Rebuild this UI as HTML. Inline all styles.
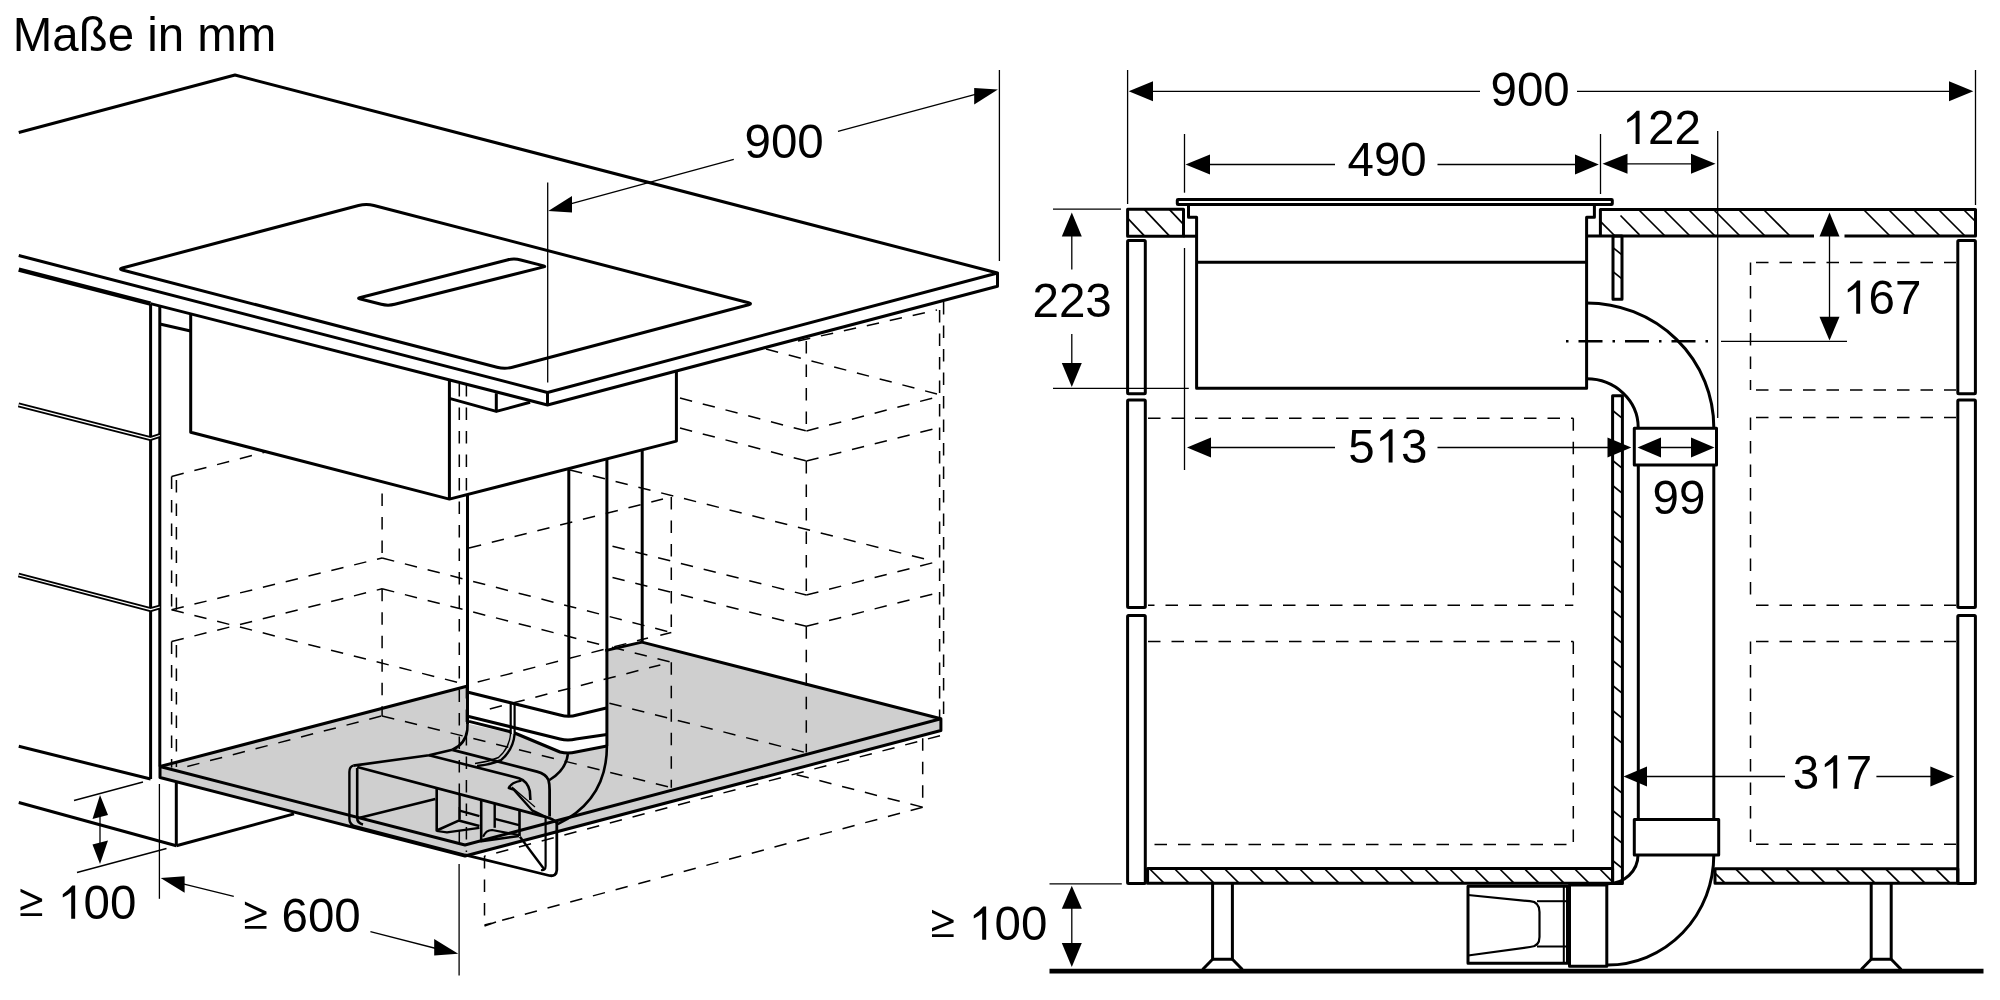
<!DOCTYPE html>
<html><head><meta charset="utf-8"><style>
html,body{margin:0;padding:0;background:#fff;}
svg{display:block;will-change:transform;}
text{font-family:"Liberation Sans", sans-serif;}
</style></head><body>
<svg width="2000" height="1000" viewBox="0 0 2000 1000">
<rect x="0" y="0" width="2000" height="1000" fill="#fff"/>
<g stroke="#000" fill="none" stroke-linejoin="round" stroke-linecap="butt">
<line x1="1127.60" y1="70.00" x2="1127.60" y2="204.00" stroke-width="1.3" />
<line x1="1975.50" y1="70.00" x2="1975.50" y2="205.00" stroke-width="1.3" />
<line x1="1140.00" y1="91.30" x2="1480.00" y2="91.30" stroke-width="1.3" />
<line x1="1577.00" y1="91.30" x2="1960.00" y2="91.30" stroke-width="1.3" />
<path d="M1128.70,91.30 L1153.00,81.30 L1153.00,101.30 Z" fill="#000" stroke="none"/>
<path d="M1973.30,91.30 L1949.00,101.30 L1949.00,81.30 Z" fill="#000" stroke="none"/>
<text x="1490.50" y="106.00" font-size="47.5" text-anchor="start" stroke="none" fill="#000">900</text>
<line x1="1184.50" y1="134.00" x2="1184.50" y2="192.70" stroke-width="1.3" />
<line x1="1600.50" y1="134.00" x2="1600.50" y2="194.00" stroke-width="1.3" />
<line x1="1195.00" y1="164.50" x2="1335.00" y2="164.50" stroke-width="1.3" />
<line x1="1437.50" y1="164.50" x2="1590.00" y2="164.50" stroke-width="1.3" />
<path d="M1185.50,164.50 L1210.00,154.50 L1210.00,174.50 Z" fill="#000" stroke="none"/>
<path d="M1598.80,164.50 L1575.00,174.50 L1575.00,154.50 Z" fill="#000" stroke="none"/>
<text x="1347.50" y="176.00" font-size="47.5" text-anchor="start" stroke="none" fill="#000">490</text>
<line x1="1717.70" y1="131.00" x2="1717.70" y2="418.00" stroke-width="1.3" />
<line x1="1610.00" y1="163.80" x2="1708.00" y2="163.80" stroke-width="1.3" />
<path d="M1602.50,163.80 L1627.50,153.80 L1627.50,173.80 Z" fill="#000" stroke="none"/>
<path d="M1715.50,163.80 L1691.00,173.80 L1691.00,153.80 Z" fill="#000" stroke="none"/>
<path d="M1635.61,144.00 L1639.55,144.00 L1639.55,110.75 L1636.70,110.75 Q1633.47,114.79 1627.16,119.49 L1627.16,122.77 Q1631.81,120.72 1635.61,117.50 Z" fill="#000" stroke="none"/>
<text x="1648.02" y="144.00" font-size="47.5" stroke="none" fill="#000">2</text>
<text x="1674.44" y="144.00" font-size="47.5" stroke="none" fill="#000">2</text>
<rect x="1177.30" y="199.50" width="435.00" height="5.10" stroke-width="3.0" fill="none" rx="0.8"/>
<path d="M1188.50,205.50 L1188.50,217.30 L1196.60,217.30 L1196.60,388.30 L1586.60,388.30 L1586.60,217.30 L1594.40,217.30 L1594.40,205.50" stroke-width="3.0" fill="none" />
<line x1="1196.60" y1="262.30" x2="1586.60" y2="262.30" stroke-width="3.0" />
<rect x="1127.60" y="209.30" width="55.90" height="26.90" stroke-width="3.0" fill="none" rx="0"/>
<line x1="1183.50" y1="236.20" x2="1196.60" y2="236.20" stroke-width="3.0" />
<line x1="1127.60" y1="218.11" x2="1144.60" y2="236.20" stroke-width="1.7" />
<line x1="1144.31" y1="209.30" x2="1169.60" y2="236.20" stroke-width="1.7" />
<line x1="1169.31" y1="209.30" x2="1183.50" y2="224.39" stroke-width="1.7" />
<path d="M1586.60,236.00 L1814.00,236.00" stroke-width="3.0" fill="none" />
<path d="M1844.50,236.00 L1975.50,236.00 L1975.50,209.50 L1600.40,209.50 L1600.40,236.00" stroke-width="3.0" fill="none" />
<line x1="1620.50" y1="215.50" x2="1639.50" y2="234.80" stroke-width="1.7" />
<line x1="1600.40" y1="221.40" x2="1615.00" y2="236.00" stroke-width="1.7" />
<line x1="1638.50" y1="209.50" x2="1665.00" y2="236.00" stroke-width="1.7" />
<line x1="1663.50" y1="209.50" x2="1690.00" y2="236.00" stroke-width="1.7" />
<line x1="1688.50" y1="209.50" x2="1715.00" y2="236.00" stroke-width="1.7" />
<line x1="1713.50" y1="209.50" x2="1740.00" y2="236.00" stroke-width="1.7" />
<line x1="1738.50" y1="209.50" x2="1765.00" y2="236.00" stroke-width="1.7" />
<line x1="1763.50" y1="209.50" x2="1790.00" y2="236.00" stroke-width="1.7" />
<line x1="1863.50" y1="209.50" x2="1890.00" y2="236.00" stroke-width="1.7" />
<line x1="1888.50" y1="209.50" x2="1915.00" y2="236.00" stroke-width="1.7" />
<line x1="1913.50" y1="209.50" x2="1940.00" y2="236.00" stroke-width="1.7" />
<line x1="1938.50" y1="209.50" x2="1965.00" y2="236.00" stroke-width="1.7" />
<line x1="1963.50" y1="209.50" x2="1975.50" y2="221.50" stroke-width="1.7" />
<rect x="1127.60" y="240.50" width="17.70" height="153.30" stroke-width="3.0" fill="none" rx="1"/>
<rect x="1127.60" y="400.00" width="17.70" height="207.50" stroke-width="3.0" fill="none" rx="1"/>
<rect x="1127.60" y="615.50" width="17.70" height="268.00" stroke-width="3.0" fill="none" rx="1"/>
<rect x="1957.80" y="240.50" width="17.60" height="153.30" stroke-width="3.0" fill="none" rx="1"/>
<rect x="1957.80" y="400.00" width="17.60" height="207.50" stroke-width="3.0" fill="none" rx="1"/>
<rect x="1957.80" y="615.50" width="17.60" height="268.00" stroke-width="3.0" fill="none" rx="1"/>
<rect x="1613.00" y="236.00" width="9.00" height="63.20" stroke-width="3.0" fill="none" rx="0"/>
<line x1="1613.00" y1="247.60" x2="1622.00" y2="254.80" stroke-width="1.7" />
<line x1="1613.00" y1="271.60" x2="1622.00" y2="278.80" stroke-width="1.7" />
<rect x="1612.60" y="395.80" width="9.80" height="487.70" stroke-width="3.0" fill="none" rx="0"/>
<line x1="1612.60" y1="410.50" x2="1622.40" y2="418.34" stroke-width="1.7" />
<line x1="1612.60" y1="460.50" x2="1622.40" y2="468.34" stroke-width="1.7" />
<line x1="1612.60" y1="485.50" x2="1622.40" y2="493.34" stroke-width="1.7" />
<line x1="1612.60" y1="510.50" x2="1622.40" y2="518.34" stroke-width="1.7" />
<line x1="1612.60" y1="535.50" x2="1622.40" y2="543.34" stroke-width="1.7" />
<line x1="1612.60" y1="560.50" x2="1622.40" y2="568.34" stroke-width="1.7" />
<line x1="1612.60" y1="585.50" x2="1622.40" y2="593.34" stroke-width="1.7" />
<line x1="1612.60" y1="610.50" x2="1622.40" y2="618.34" stroke-width="1.7" />
<line x1="1612.60" y1="635.50" x2="1622.40" y2="643.34" stroke-width="1.7" />
<line x1="1612.60" y1="660.50" x2="1622.40" y2="668.34" stroke-width="1.7" />
<line x1="1612.60" y1="685.50" x2="1622.40" y2="693.34" stroke-width="1.7" />
<line x1="1612.60" y1="710.50" x2="1622.40" y2="718.34" stroke-width="1.7" />
<line x1="1612.60" y1="735.50" x2="1622.40" y2="743.34" stroke-width="1.7" />
<line x1="1612.60" y1="785.50" x2="1622.40" y2="793.34" stroke-width="1.7" />
<line x1="1612.60" y1="810.50" x2="1622.40" y2="818.34" stroke-width="1.7" />
<line x1="1612.60" y1="835.50" x2="1622.40" y2="843.34" stroke-width="1.7" />
<line x1="1612.60" y1="860.50" x2="1622.40" y2="868.34" stroke-width="1.7" />
<rect x="1147.60" y="868.50" width="465.00" height="14.70" stroke-width="3.0" fill="none" rx="0"/>
<line x1="1149.30" y1="868.50" x2="1164.00" y2="883.20" stroke-width="1.7" />
<line x1="1174.30" y1="868.50" x2="1189.00" y2="883.20" stroke-width="1.7" />
<line x1="1199.30" y1="868.50" x2="1214.00" y2="883.20" stroke-width="1.7" />
<line x1="1224.30" y1="868.50" x2="1239.00" y2="883.20" stroke-width="1.7" />
<line x1="1249.30" y1="868.50" x2="1264.00" y2="883.20" stroke-width="1.7" />
<line x1="1274.30" y1="868.50" x2="1289.00" y2="883.20" stroke-width="1.7" />
<line x1="1299.30" y1="868.50" x2="1314.00" y2="883.20" stroke-width="1.7" />
<line x1="1324.30" y1="868.50" x2="1339.00" y2="883.20" stroke-width="1.7" />
<line x1="1349.30" y1="868.50" x2="1364.00" y2="883.20" stroke-width="1.7" />
<line x1="1374.30" y1="868.50" x2="1389.00" y2="883.20" stroke-width="1.7" />
<line x1="1399.30" y1="868.50" x2="1414.00" y2="883.20" stroke-width="1.7" />
<line x1="1424.30" y1="868.50" x2="1439.00" y2="883.20" stroke-width="1.7" />
<line x1="1449.30" y1="868.50" x2="1464.00" y2="883.20" stroke-width="1.7" />
<line x1="1474.30" y1="868.50" x2="1489.00" y2="883.20" stroke-width="1.7" />
<line x1="1499.30" y1="868.50" x2="1514.00" y2="883.20" stroke-width="1.7" />
<line x1="1524.30" y1="868.50" x2="1539.00" y2="883.20" stroke-width="1.7" />
<line x1="1549.30" y1="868.50" x2="1564.00" y2="883.20" stroke-width="1.7" />
<line x1="1574.30" y1="868.50" x2="1589.00" y2="883.20" stroke-width="1.7" />
<line x1="1599.30" y1="868.50" x2="1612.60" y2="881.80" stroke-width="1.7" />
<rect x="1715.00" y="868.80" width="242.80" height="14.40" stroke-width="3.0" fill="none" rx="0"/>
<line x1="1715.00" y1="873.20" x2="1725.00" y2="883.20" stroke-width="1.7" />
<line x1="1735.60" y1="868.80" x2="1750.00" y2="883.20" stroke-width="1.7" />
<line x1="1760.60" y1="868.80" x2="1775.00" y2="883.20" stroke-width="1.7" />
<line x1="1785.60" y1="868.80" x2="1800.00" y2="883.20" stroke-width="1.7" />
<line x1="1810.60" y1="868.80" x2="1825.00" y2="883.20" stroke-width="1.7" />
<line x1="1835.60" y1="868.80" x2="1850.00" y2="883.20" stroke-width="1.7" />
<line x1="1860.60" y1="868.80" x2="1875.00" y2="883.20" stroke-width="1.7" />
<line x1="1885.60" y1="868.80" x2="1900.00" y2="883.20" stroke-width="1.7" />
<line x1="1910.60" y1="868.80" x2="1925.00" y2="883.20" stroke-width="1.7" />
<line x1="1935.60" y1="868.80" x2="1950.00" y2="883.20" stroke-width="1.7" />
<line x1="1148.00" y1="418.30" x2="1573.30" y2="418.30" stroke-width="1.5" stroke-dasharray="12.5 11" stroke-dashoffset="0"/>
<line x1="1573.30" y1="418.30" x2="1573.30" y2="605.30" stroke-width="1.5" stroke-dasharray="12.5 11" stroke-dashoffset="0"/>
<line x1="1148.00" y1="605.30" x2="1573.30" y2="605.30" stroke-width="1.5" stroke-dasharray="12.5 11" stroke-dashoffset="6"/>
<line x1="1148.00" y1="641.50" x2="1573.30" y2="641.50" stroke-width="1.5" stroke-dasharray="12.5 11" stroke-dashoffset="0"/>
<line x1="1573.30" y1="641.50" x2="1573.30" y2="844.50" stroke-width="1.5" stroke-dasharray="12.5 11" stroke-dashoffset="0"/>
<line x1="1154.50" y1="844.50" x2="1573.30" y2="844.50" stroke-width="1.5" stroke-dasharray="12.5 11" stroke-dashoffset="0"/>
<line x1="1756.00" y1="262.50" x2="1956.00" y2="262.50" stroke-width="1.5" stroke-dasharray="12.5 11" stroke-dashoffset="0"/>
<line x1="1750.50" y1="262.50" x2="1750.50" y2="390.00" stroke-width="1.5" stroke-dasharray="12.5 11" stroke-dashoffset="0"/>
<line x1="1756.00" y1="390.00" x2="1956.00" y2="390.00" stroke-width="1.5" stroke-dasharray="12.5 11" stroke-dashoffset="0"/>
<line x1="1756.00" y1="417.50" x2="1956.00" y2="417.50" stroke-width="1.5" stroke-dasharray="12.5 11" stroke-dashoffset="0"/>
<line x1="1750.50" y1="417.50" x2="1750.50" y2="605.30" stroke-width="1.5" stroke-dasharray="12.5 11" stroke-dashoffset="0"/>
<line x1="1756.00" y1="605.30" x2="1956.00" y2="605.30" stroke-width="1.5" stroke-dasharray="12.5 11" stroke-dashoffset="0"/>
<line x1="1756.00" y1="641.50" x2="1956.00" y2="641.50" stroke-width="1.5" stroke-dasharray="12.5 11" stroke-dashoffset="0"/>
<line x1="1750.50" y1="641.50" x2="1750.50" y2="844.30" stroke-width="1.5" stroke-dasharray="12.5 11" stroke-dashoffset="0"/>
<line x1="1756.00" y1="844.30" x2="1956.00" y2="844.30" stroke-width="1.5" stroke-dasharray="12.5 11" stroke-dashoffset="0"/>
<path d="M1586.6,303 A127,124.5 0 0 1 1713.8,427.5" stroke-width="3.0" fill="none" />
<path d="M1586.6,378.8 A51.6,48.7 0 0 1 1638.2,427.5" stroke-width="3.0" fill="none" />
<rect x="1634.30" y="428.30" width="82.20" height="36.70" stroke-width="3.0" fill="none" rx="0"/>
<line x1="1638.30" y1="465.00" x2="1638.30" y2="819.50" stroke-width="3.0" />
<line x1="1713.80" y1="465.00" x2="1713.80" y2="819.50" stroke-width="3.0" />
<rect x="1634.30" y="819.50" width="84.40" height="35.50" stroke-width="3.0" fill="none" rx="0"/>
<path d="M1713.8,855 A106.3,110 0 0 1 1607.5,965" stroke-width="3.0" fill="none" />
<path d="M1638,855 A30.5,28.8 0 0 1 1607.5,883.8" stroke-width="3.0" fill="none" />
<rect x="1569.50" y="885.00" width="37.30" height="81.30" stroke-width="3.0" fill="none" rx="0"/>
<rect x="1468.00" y="886.30" width="99.50" height="77.00" stroke-width="3.0" fill="none" rx="0"/>
<path d="M1468,895 L1530,901.2 Q1539.5,902 1539.5,912 L1539.5,937 Q1539.5,946.5 1530,947 L1468,955.5" stroke-width="2.2" fill="none" />
<line x1="1537.00" y1="901.20" x2="1567.50" y2="901.20" stroke-width="2.0" />
<line x1="1537.00" y1="946.50" x2="1567.50" y2="946.50" stroke-width="2.0" />
<line x1="1563.80" y1="886.30" x2="1563.80" y2="963.30" stroke-width="2.0" />
<line x1="1566" y1="341.3" x2="1712" y2="341.3" stroke-width="2.6" stroke-dasharray="2.5 10 24 10" />
<line x1="1721.00" y1="341.30" x2="1847.00" y2="341.30" stroke-width="1.3" />
<line x1="1053.00" y1="209.20" x2="1121.00" y2="209.20" stroke-width="1.3" />
<line x1="1053.00" y1="388.30" x2="1188.80" y2="388.30" stroke-width="1.3" />
<line x1="1071.80" y1="230.00" x2="1071.80" y2="269.50" stroke-width="1.3" />
<line x1="1071.80" y1="334.00" x2="1071.80" y2="370.00" stroke-width="1.3" />
<path d="M1071.80,212.50 L1081.80,236.50 L1061.80,236.50 Z" fill="#000" stroke="none"/>
<path d="M1071.80,387.00 L1061.80,363.00 L1081.80,363.00 Z" fill="#000" stroke="none"/>
<text x="1032.50" y="317.00" font-size="47.5" text-anchor="start" stroke="none" fill="#000">223</text>
<line x1="1829.50" y1="230.00" x2="1829.50" y2="330.00" stroke-width="1.3" />
<path d="M1829.50,212.50 L1839.50,236.50 L1819.50,236.50 Z" fill="#000" stroke="none"/>
<path d="M1829.50,340.50 L1819.50,316.80 L1839.50,316.80 Z" fill="#000" stroke="none"/>
<path d="M1856.21,313.80 L1860.15,313.80 L1860.15,280.55 L1857.31,280.55 Q1854.08,284.59 1847.76,289.29 L1847.76,292.57 Q1852.41,290.53 1856.21,287.30 Z" fill="#000" stroke="none"/>
<text x="1868.62" y="313.80" font-size="47.5" stroke="none" fill="#000">6</text>
<text x="1895.04" y="313.80" font-size="47.5" stroke="none" fill="#000">7</text>
<line x1="1184.50" y1="248.00" x2="1184.50" y2="470.00" stroke-width="1.3" />
<line x1="1195.00" y1="447.50" x2="1335.00" y2="447.50" stroke-width="1.3" />
<line x1="1437.50" y1="447.50" x2="1620.00" y2="447.50" stroke-width="1.3" />
<path d="M1187.00,447.50 L1211.00,437.50 L1211.00,457.50 Z" fill="#000" stroke="none"/>
<path d="M1631.30,447.50 L1607.50,457.50 L1607.50,437.50 Z" fill="#000" stroke="none"/>
<text x="1348.20" y="462.50" font-size="47.5" stroke="none" fill="#000">5</text>
<path d="M1388.63,462.50 L1392.57,462.50 L1392.57,429.25 L1389.72,429.25 Q1386.49,433.29 1380.18,437.99 L1380.18,441.27 Q1384.83,439.23 1388.63,436.00 Z" fill="#000" stroke="none"/>
<text x="1401.04" y="462.50" font-size="47.5" stroke="none" fill="#000">3</text>
<line x1="1650.00" y1="447.50" x2="1700.00" y2="447.50" stroke-width="1.3" />
<path d="M1637.50,447.50 L1661.00,437.50 L1661.00,457.50 Z" fill="#000" stroke="none"/>
<path d="M1714.50,447.50 L1691.00,457.50 L1691.00,437.50 Z" fill="#000" stroke="none"/>
<text x="1652.50" y="513.80" font-size="47.5" text-anchor="start" stroke="none" fill="#000">99</text>
<line x1="1635.00" y1="776.50" x2="1785.00" y2="776.50" stroke-width="1.3" />
<line x1="1876.40" y1="776.50" x2="1940.00" y2="776.50" stroke-width="1.3" />
<path d="M1623.50,776.50 L1647.00,766.50 L1647.00,786.50 Z" fill="#000" stroke="none"/>
<path d="M1954.40,776.50 L1930.40,786.50 L1930.40,766.50 Z" fill="#000" stroke="none"/>
<text x="1792.80" y="788.50" font-size="47.5" stroke="none" fill="#000">3</text>
<path d="M1833.23,788.50 L1837.17,788.50 L1837.17,755.25 L1834.32,755.25 Q1831.09,759.29 1824.78,763.99 L1824.78,767.27 Q1829.43,765.23 1833.23,762.00 Z" fill="#000" stroke="none"/>
<text x="1845.64" y="788.50" font-size="47.5" stroke="none" fill="#000">7</text>
<line x1="1049.50" y1="883.80" x2="1121.80" y2="883.80" stroke-width="1.3" />
<line x1="1071.80" y1="900.00" x2="1071.80" y2="955.00" stroke-width="1.3" />
<path d="M1071.80,885.80 L1081.80,908.80 L1061.80,908.80 Z" fill="#000" stroke="none"/>
<path d="M1071.80,967.00 L1061.80,943.00 L1081.80,943.00 Z" fill="#000" stroke="none"/>
<path d="M932.00,909.78 L953.61,919.90 L953.61,922.60 L932.00,931.53 L932.00,928.12 L949.58,921.27 L932.00,913.01 Z M932.00,934.19 L953.61,934.19 L953.61,937.09 L932.00,937.09 Z" fill="#000" stroke="none"/>
<path d="M982.21,939.80 L986.16,939.80 L986.16,906.55 L983.31,906.55 Q980.08,910.59 973.76,915.29 L973.76,918.57 Q978.41,916.52 982.21,913.29 Z" fill="#000" stroke="none"/>
<text x="994.62" y="939.80" font-size="47.5" stroke="none" fill="#000">0</text>
<text x="1021.04" y="939.80" font-size="47.5" stroke="none" fill="#000">0</text>
<line x1="1049.50" y1="971.10" x2="1983.50" y2="971.10" stroke-width="4.8" />
<path d="M1212.60,883.50 L1212.60,959.30 L1232.40,959.30 L1232.40,883.50" stroke-width="3.0" fill="none" />
<path d="M1212.60,959.30 L1202.60,969.50" stroke-width="3.0" fill="none" />
<path d="M1232.40,959.30 L1242.40,969.50" stroke-width="3.0" fill="none" />
<path d="M1871.20,883.50 L1871.20,959.30 L1891.20,959.30 L1891.20,883.50" stroke-width="3.0" fill="none" />
<path d="M1871.20,959.30 L1861.20,969.50" stroke-width="3.0" fill="none" />
<path d="M1891.20,959.30 L1901.20,969.50" stroke-width="3.0" fill="none" />
<path d="M160,766.5 L466.8,686.2 L641.9,642.1 L940.9,718.8 L940.9,730.5 L465,856 L160,777.5 Z" fill="#cfcfcf" stroke="none"/>
<path d="M467.5,495 L568.8,470 L606.9,460 L606.9,746 L568,754 L514,734 L469,724 Z" fill="#fff" stroke="none"/>
<line x1="171.60" y1="476.50" x2="265.80" y2="451.90" stroke-width="1.5" stroke-dasharray="12.5 11" stroke-dashoffset="0"/>
<line x1="171.60" y1="476.50" x2="171.60" y2="609.70" stroke-width="1.5" stroke-dasharray="12.5 11" stroke-dashoffset="0"/>
<line x1="176.40" y1="480.00" x2="176.40" y2="609.70" stroke-width="1.5" stroke-dasharray="12.5 11" stroke-dashoffset="0"/>
<line x1="171.60" y1="641.60" x2="171.60" y2="767.60" stroke-width="1.5" stroke-dasharray="12.5 11" stroke-dashoffset="0"/>
<line x1="176.40" y1="645.00" x2="176.40" y2="767.00" stroke-width="1.5" stroke-dasharray="12.5 11" stroke-dashoffset="0"/>
<line x1="171.60" y1="609.70" x2="382.10" y2="558.00" stroke-width="1.5" stroke-dasharray="12.5 11" stroke-dashoffset="0"/>
<line x1="171.60" y1="641.60" x2="382.10" y2="588.80" stroke-width="1.5" stroke-dasharray="12.5 11" stroke-dashoffset="0"/>
<line x1="382.10" y1="558.00" x2="671.30" y2="632.50" stroke-width="1.5" stroke-dasharray="12.5 11" stroke-dashoffset="0"/>
<line x1="671.30" y1="632.50" x2="660.30" y2="635.20" stroke-width="1.5" stroke-dasharray="12.5 11" stroke-dashoffset="0"/>
<line x1="382.10" y1="588.80" x2="604.00" y2="645.50" stroke-width="1.5" stroke-dasharray="12.5 11" stroke-dashoffset="0"/>
<line x1="171.60" y1="609.70" x2="466.00" y2="684.50" stroke-width="1.5" stroke-dasharray="12.5 11" stroke-dashoffset="0"/>
<line x1="382.10" y1="493.50" x2="382.10" y2="558.00" stroke-width="1.5" stroke-dasharray="12.5 11" stroke-dashoffset="0"/>
<line x1="382.10" y1="588.80" x2="382.10" y2="715.90" stroke-width="1.5" stroke-dasharray="12.5 11" stroke-dashoffset="0"/>
<line x1="187.30" y1="766.50" x2="382.10" y2="715.90" stroke-width="1.5" stroke-dasharray="12.5 11" stroke-dashoffset="0"/>
<line x1="382.10" y1="715.90" x2="671.80" y2="787.70" stroke-width="1.5" stroke-dasharray="12.5 11" stroke-dashoffset="0"/>
<line x1="459.30" y1="384.00" x2="459.30" y2="852.00" stroke-width="1.5" stroke-dasharray="12.5 11" stroke-dashoffset="0"/>
<line x1="466.40" y1="384.00" x2="466.40" y2="495.00" stroke-width="1.5" stroke-dasharray="12.5 11" stroke-dashoffset="0"/>
<line x1="466.40" y1="686.00" x2="466.40" y2="852.00" stroke-width="1.5" stroke-dasharray="12.5 11" stroke-dashoffset="0"/>
<line x1="469.00" y1="548.00" x2="663.00" y2="499.00" stroke-width="1.5" stroke-dasharray="12.5 11" stroke-dashoffset="0"/>
<line x1="570.00" y1="470.00" x2="933.80" y2="561.30" stroke-width="1.5" stroke-dasharray="12.5 11" stroke-dashoffset="0"/>
<line x1="612.50" y1="546.30" x2="806.30" y2="595.00" stroke-width="1.5" stroke-dasharray="12.5 11" stroke-dashoffset="0"/>
<line x1="612.50" y1="577.50" x2="806.30" y2="626.30" stroke-width="1.5" stroke-dasharray="12.5 11" stroke-dashoffset="0"/>
<line x1="806.30" y1="595.00" x2="933.80" y2="562.50" stroke-width="1.5" stroke-dasharray="12.5 11" stroke-dashoffset="0"/>
<line x1="806.30" y1="626.30" x2="933.80" y2="593.80" stroke-width="1.5" stroke-dasharray="12.5 11" stroke-dashoffset="0"/>
<line x1="671.30" y1="497.00" x2="671.30" y2="632.50" stroke-width="1.5" stroke-dasharray="12.5 11" stroke-dashoffset="0"/>
<line x1="671.30" y1="662.20" x2="671.30" y2="787.70" stroke-width="1.5" stroke-dasharray="12.5 11" stroke-dashoffset="0"/>
<line x1="806.30" y1="341.00" x2="806.30" y2="431.00" stroke-width="1.5" stroke-dasharray="12.5 11" stroke-dashoffset="0"/>
<line x1="806.30" y1="461.00" x2="806.30" y2="595.00" stroke-width="1.5" stroke-dasharray="12.5 11" stroke-dashoffset="0"/>
<line x1="806.30" y1="626.30" x2="806.30" y2="752.60" stroke-width="1.5" stroke-dasharray="12.5 11" stroke-dashoffset="0"/>
<line x1="477.70" y1="682.00" x2="648.00" y2="638.00" stroke-width="1.5" stroke-dasharray="12.5 11" stroke-dashoffset="0"/>
<line x1="489.80" y1="708.90" x2="660.30" y2="664.90" stroke-width="1.5" stroke-dasharray="12.5 11" stroke-dashoffset="0"/>
<line x1="611.90" y1="647.30" x2="671.30" y2="662.20" stroke-width="1.5" stroke-dasharray="12.5 11" stroke-dashoffset="0"/>
<line x1="609.40" y1="703.20" x2="805.70" y2="752.60" stroke-width="1.5" stroke-dasharray="12.5 11" stroke-dashoffset="0"/>
<line x1="798.00" y1="341.00" x2="937.00" y2="310.00" stroke-width="1.5" stroke-dasharray="12.5 11" stroke-dashoffset="0"/>
<line x1="766.00" y1="349.00" x2="937.00" y2="394.00" stroke-width="1.5" stroke-dasharray="12.5 11" stroke-dashoffset="0"/>
<line x1="806.40" y1="431.00" x2="937.00" y2="397.00" stroke-width="1.5" stroke-dasharray="12.5 11" stroke-dashoffset="0"/>
<line x1="680.00" y1="398.00" x2="806.40" y2="431.00" stroke-width="1.5" stroke-dasharray="12.5 11" stroke-dashoffset="0"/>
<line x1="680.00" y1="428.00" x2="806.40" y2="461.00" stroke-width="1.5" stroke-dasharray="12.5 11" stroke-dashoffset="0"/>
<line x1="806.40" y1="461.00" x2="937.00" y2="428.00" stroke-width="1.5" stroke-dasharray="12.5 11" stroke-dashoffset="0"/>
<line x1="939.60" y1="310.00" x2="939.60" y2="718.00" stroke-width="1.5" stroke-dasharray="12.5 11" stroke-dashoffset="0"/>
<line x1="943.60" y1="302.00" x2="943.60" y2="718.00" stroke-width="1.5" stroke-dasharray="12.5 11" stroke-dashoffset="0"/>
<line x1="922.70" y1="738.30" x2="922.70" y2="807.20" stroke-width="1.5" stroke-dasharray="12.5 11" stroke-dashoffset="0"/>
<line x1="796.60" y1="774.70" x2="922.70" y2="807.20" stroke-width="1.5" stroke-dasharray="12.5 11" stroke-dashoffset="0"/>
<line x1="922.70" y1="807.20" x2="484.50" y2="925.00" stroke-width="1.5" stroke-dasharray="12.5 11" stroke-dashoffset="0"/>
<line x1="940.00" y1="735.70" x2="484.50" y2="856.00" stroke-width="1.5" stroke-dasharray="12.5 11" stroke-dashoffset="0"/>
<line x1="484.50" y1="856.00" x2="484.50" y2="926.00" stroke-width="1.5" stroke-dasharray="12.5 11" stroke-dashoffset="0"/>
<line x1="484.50" y1="926.00" x2="496.00" y2="922.00" stroke-width="1.5" stroke-dasharray="12.5 11" stroke-dashoffset="0"/>
<line x1="150.60" y1="304.00" x2="150.60" y2="779.00" stroke-width="3.0" />
<line x1="159.80" y1="305.00" x2="159.80" y2="766.50" stroke-width="3.0" />
<line x1="159.80" y1="324.00" x2="190.60" y2="331.00" stroke-width="3.0" />
<path d="M18.5,404.9 L150.6,438.6 L159.8,435.5" stroke-width="4.8" fill="none" />
<path d="M18.5,404.9 L150.6,438.6 L159.8,435.5" stroke-width="1.1" fill="none" stroke="#fff"/>
<path d="M18.5,575 L150.6,609.6 L159.8,607" stroke-width="4.8" fill="none" />
<path d="M18.5,575 L150.6,609.6 L159.8,607" stroke-width="1.1" fill="none" stroke="#fff"/>
<line x1="18.75" y1="746.30" x2="150.60" y2="779.00" stroke-width="3.0" />
<line x1="18.75" y1="802.50" x2="176.30" y2="845.80" stroke-width="3.0" />
<line x1="176.30" y1="783.00" x2="176.30" y2="845.80" stroke-width="3.0" />
<line x1="176.30" y1="845.80" x2="294.00" y2="813.90" stroke-width="3.0" />
<path d="M190.7,314 L190.7,432.3 L449.4,499.1 L676.4,441.1 L676.4,372" stroke-width="3.0" fill="none" />
<line x1="449.40" y1="380.80" x2="449.40" y2="499.10" stroke-width="3.0" />
<path d="M449.4,398.4 L496.3,411.4 L530.1,402.3" stroke-width="3.0" fill="none" />
<line x1="496.30" y1="393.20" x2="496.30" y2="411.40" stroke-width="3.0" />
<path d="M160,766.5 L466.8,686.2" stroke-width="3.0" fill="none" />
<path d="M605.3,650.6 L641.9,642.1 L940.9,718.8 L940.9,730.5 L465,856 L160,777.5 L160,766.5 L465,845 L940.9,718.8" stroke-width="3.0" fill="none" />
<line x1="467.50" y1="495.00" x2="467.50" y2="724.00" stroke-width="3.0" />
<line x1="568.80" y1="470.00" x2="568.80" y2="716.80" stroke-width="3.0" />
<line x1="606.90" y1="460.00" x2="606.90" y2="746.00" stroke-width="3.0" />
<line x1="642.20" y1="451.00" x2="642.20" y2="641.00" stroke-width="3.0" />
<path d="M467.2,692 L560,715 Q568.8,717.5 577,715 L606.4,708" stroke-width="3.0" fill="none" />
<path d="M467.7,716.2 L560,739 Q567.9,741.2 576,739 L606.9,734.4" stroke-width="3.0" fill="none" />
<path d="M469,721.4 L510.7,731.8 M514.6,733 L560,752 Q567.9,754.2 576,752 L606.9,746" stroke-width="3.0" fill="none" />
<line x1="510.70" y1="703.00" x2="510.70" y2="734.00" stroke-width="2.2" />
<line x1="514.60" y1="704.00" x2="514.60" y2="735.00" stroke-width="2.2" />
<path d="M467.5,724 L467.3,730 Q465.5,744 452.4,749.8" stroke-width="2.6" fill="none" />
<path d="M514.6,734.4 Q513,750 501,760.2 Q491,764.5 477,766" stroke-width="2.4" fill="none" />
<path d="M510.7,733 Q509.5,748 498.5,757.5 Q489,761.5 475,763.5" stroke-width="1.4" fill="none" />
<path d="M567.9,754 Q566,770 549.5,780" stroke-width="2.6" fill="none" />
<path d="M606.9,746 Q607,800 557.7,824.2" stroke-width="2.6" fill="none" />
<path d="M353.3,765.6 Q349.4,766.5 349.4,772 L349.4,819 Q349.4,825 356,826.5 L465,854.8" stroke-width="2.4" fill="none" />
<path d="M357.2,768 L357.2,818 Q357.2,823 363,824.5" stroke-width="2.6" fill="none" />
<path d="M357.2,767 L542.4,816.1 Q554,818.5 556.8,823 L556.8,870 Q556.5,877 549,875.5 L465,854.8" stroke-width="2.8" fill="none" />
<path d="M545.6,818 L545.6,866 Q545.6,871 541,870" stroke-width="2.2" fill="none" />
<path d="M353.3,765.6 L429,755.2 L452.4,749.8" stroke-width="2.6" fill="none" />
<path d="M452.4,749.8 L537,771.6 Q546,774 548.5,780 Q549.6,784 549.6,790 L549.6,816.5" stroke-width="2.8" fill="none" />
<path d="M429,755.2 L519,778.2 Q527.5,781 529.8,791 L530.4,800" stroke-width="2.6" fill="none" />
<path d="M521.4,780.6 Q511,782.5 508.8,788 L513.6,789.5 L532.5,810.7 L546,817" stroke-width="2.4" fill="none" />
<path d="M512,787 L535,807" stroke-width="1.2" fill="none" />
<path d="M359.8,817.7 L435.3,799" stroke-width="2.6" fill="none" />
<path d="M436.7,789 L436.7,830.5 L458.7,820.6 L479.4,826" stroke-width="2.6" fill="none" />
<path d="M436.7,831 L447,832.3 L479.4,827.8" stroke-width="2.2" fill="none" />
<path d="M459.6,795.4 L459.6,819.7" stroke-width="2.4" fill="none" />
<path d="M459.6,810.7 L479.4,816.1" stroke-width="2.4" fill="none" />
<path d="M481.2,799 L481.2,841.3 L519,836" stroke-width="2.6" fill="none" />
<path d="M483,836.8 Q486,830 492,830 L519,835" stroke-width="2.2" fill="none" />
<path d="M494.7,803.5 L494.7,827.8" stroke-width="2.4" fill="none" />
<path d="M494.7,818.8 L519,825.1" stroke-width="2.4" fill="none" />
<path d="M519.5,809.8 L519.5,836" stroke-width="2.6" fill="none" />
<path d="M519.9,836.8 L544.2,869.2" stroke-width="2.4" fill="none" />
<line x1="74.00" y1="800.50" x2="143.00" y2="782.00" stroke-width="1.3" />
<line x1="77.00" y1="872.50" x2="166.50" y2="848.50" stroke-width="1.3" />
<line x1="100.00" y1="812.00" x2="100.00" y2="846.00" stroke-width="1.3" />
<path d="M100.00,795.00 L92.50,819.00 L108.00,815.00 Z" fill="#000" stroke="none"/>
<path d="M100.00,864.00 L92.50,844.50 L108.00,840.50 Z" fill="#000" stroke="none"/>
<path d="M20.50,888.73 L42.11,898.85 L42.11,901.55 L20.50,910.49 L20.50,907.07 L38.08,900.23 L20.50,891.96 Z M20.50,913.14 L42.11,913.14 L42.11,916.04 L20.50,916.04 Z" fill="#000" stroke="none"/>
<path d="M71.21,918.75 L75.16,918.75 L75.16,885.50 L72.31,885.50 Q69.08,889.54 62.76,894.24 L62.76,897.52 Q67.41,895.48 71.21,892.25 Z" fill="#000" stroke="none"/>
<text x="83.62" y="918.75" font-size="47.5" stroke="none" fill="#000">0</text>
<text x="110.04" y="918.75" font-size="47.5" stroke="none" fill="#000">0</text>
<line x1="159.40" y1="784.00" x2="159.40" y2="898.80" stroke-width="1.3" />
<line x1="180.00" y1="883.20" x2="233.80" y2="896.30" stroke-width="1.3" />
<path d="M160.60,878.00 L184.60,876.20 L184.60,892.80 Z" fill="#000" stroke="none"/>
<path d="M244.90,901.48 L266.51,911.60 L266.51,914.30 L244.90,923.24 L244.90,919.82 L262.48,912.98 L244.90,904.71 Z M244.90,925.89 L266.51,925.89 L266.51,928.79 L244.90,928.79 Z" fill="#000" stroke="none"/>
<text x="281.50" y="931.50" font-size="47.5" stroke="none" fill="#000">6</text>
<text x="307.92" y="931.50" font-size="47.5" stroke="none" fill="#000">0</text>
<text x="334.34" y="931.50" font-size="47.5" stroke="none" fill="#000">0</text>
<line x1="370.40" y1="931.60" x2="440.00" y2="949.50" stroke-width="1.3" />
<path d="M458.20,953.80 L434.20,939.00 L434.20,955.60 Z" fill="#000" stroke="none"/>
<line x1="459.10" y1="864.00" x2="459.10" y2="975.40" stroke-width="1.3" />
<path d="M18.75,132.5 L235,75 L997.5,273 L547.5,392.5 L18.75,255.5" stroke-width="3.0" fill="none" />
<line x1="547.50" y1="392.50" x2="547.50" y2="405.00" stroke-width="3.0" />
<path d="M150.5,303.6 L547.5,405 L997.5,286.3 L997.5,273" stroke-width="3.0" fill="none" />
<line x1="18.75" y1="269.60" x2="150.50" y2="303.60" stroke-width="4.5" />
<path d="M122.37,270.00 Q118.50,269.00 122.37,267.98 L358.52,205.54 Q366.25,203.50 373.99,205.51 L748.63,302.75 Q752.50,303.75 748.63,304.77 L512.48,367.21 Q504.75,369.25 497.01,367.24 Z" stroke-width="3.0" fill="none" />
<path d="M359.54,298.79 Q357.60,298.30 359.54,297.80 L507.22,259.94 Q514.00,258.20 520.78,259.95 L543.76,265.90 Q545.70,266.40 543.76,266.89 L394.79,304.30 Q388.00,306.00 381.21,304.28 Z" stroke-width="3.0" fill="none" />
<line x1="999.40" y1="70.00" x2="999.40" y2="261.00" stroke-width="1.3" />
<line x1="547.70" y1="182.50" x2="547.70" y2="382.50" stroke-width="1.3" />
<line x1="565.00" y1="205.30" x2="733.80" y2="159.30" stroke-width="1.3" />
<line x1="838.00" y1="131.30" x2="980.00" y2="93.20" stroke-width="1.3" />
<path d="M548.25,211.00 L572.00,196.00 L572.00,212.50 Z" fill="#000" stroke="none"/>
<path d="M997.90,89.40 L974.20,87.90 L974.20,104.40 Z" fill="#000" stroke="none"/>
<text x="744.50" y="157.50" font-size="47.5" text-anchor="start" stroke="none" fill="#000">900</text>
<text x="12.80" y="50.80" font-size="47.45" text-anchor="start" stroke="none" fill="#000">Maße in mm</text>
</g>
</svg>
</body></html>
